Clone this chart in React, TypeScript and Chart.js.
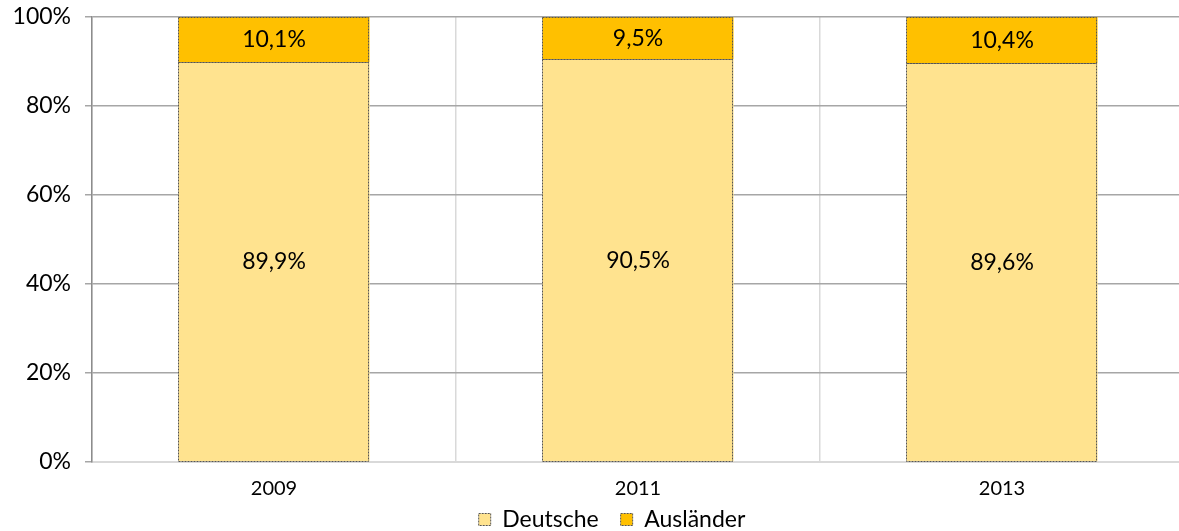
import React, { useEffect, useRef } from "react";
import { Chart, registerables } from "chart.js";

Chart.register(...registerables);

const categories = ["2009", "2011", "2013"];
const deutsche = [89.9, 90.5, 89.6];
const auslaender = [10.1, 9.5, 10.4];
const seriesNames = ["Deutsche", "Ausländer"];
const yTicks = [0, 20, 40, 60, 80, 100];

const FONT = "Lato, 'Open Sans', sans-serif";

const fmt = (v: number) => v.toFixed(1).replace(".", ",") + "%";

const LEGEND_H = 35;
const LEGEND_SHIFT_X = 20;
const LEGEND_SHIFT_Y = -10;

const barDecor = {
  id: "barDecor",
  afterInit(chart: any) {
    const lg = chart.legend;
    if (lg && !lg.__patched) {
      const origFit = lg.fit.bind(lg);
      lg.fit = function () {
        origFit();
        this.height = LEGEND_H;
      };
      const origDraw = lg._draw.bind(lg);
      lg._draw = function () {
        const ctx = chart.ctx;
        ctx.save();
        ctx.translate(LEGEND_SHIFT_X, LEGEND_SHIFT_Y);
        origDraw();
        ctx.restore();
      };
      lg.__patched = true;
    }
  },
  afterDatasetsDraw(chart: any) {
    const ctx = chart.ctx;
    chart.data.datasets.forEach((ds: any, di: number) => {
      const meta = chart.getDatasetMeta(di);
      meta.data.forEach((el: any, i: number) => {
        const { x, y, base, width } = el.getProps(["x", "y", "base", "width"], true);
        const left = x - width / 2;
        const top = Math.min(y, base);
        const h = Math.abs(base - y);
        ctx.save();
        ctx.strokeStyle = "#555555";
        ctx.lineWidth = 1;
        ctx.setLineDash([2, 1]);
        ctx.strokeRect(Math.round(left) + 0.5, Math.round(top) + 0.5, Math.round(width) - 1, Math.round(h));
        ctx.restore();
        ctx.save();
        ctx.fillStyle = "#000000";
        ctx.font = `23px ${FONT}`;
        ctx.textAlign = "center";
        ctx.textBaseline = "middle";
        ctx.fillText(fmt(ds.data[i]), x, top + h / 2);
        ctx.restore();
      });
    });
  },
};

export default function App() {
  const ref = useRef<HTMLCanvasElement>(null);
  useEffect(() => {
    if (!ref.current) return;
    const chart = new Chart(ref.current, {
      type: "bar",
      data: {
        labels: categories,
        datasets: [
          {
            label: seriesNames[0],
            data: deutsche,
            backgroundColor: "#FFE38F",
            borderWidth: 0,
          },
          {
            label: seriesNames[1],
            data: auslaender,
            backgroundColor: "#FFC000",
            borderWidth: 0,
          },
        ],
      },
      options: {
        responsive: false,
        animation: false,
        layout: { padding: { top: 17, left: 0, right: 0, bottom: 0 } },
        datasets: { bar: { categoryPercentage: 1, barPercentage: 0.525 } } as any,
        scales: {
          x: {
            stacked: true,
            offset: true,
            grid: {
              color: "#d9d9d9",
              lineWidth: 1.5,
              drawTicks: false,
              offset: true,
            },
            border: { color: "#d9d9d9", width: 2 },
            ticks: { color: "#000", font: { family: FONT, size: 20 }, padding: 15 },
            afterFit: (s: any) => {
              s.height = 34;
            },
          },
          y: {
            stacked: true,
            min: 0,
            max: 100,
            afterBuildTicks: (s: any) => {
              s.ticks = yTicks.map((v) => ({ value: v }));
            },
            grid: {
              color: (c: any) => (c.tick && c.tick.value === 0 ? "rgba(0,0,0,0)" : "#a6a6a6"),
              tickColor: "#a6a6a6",
              lineWidth: 1.5,
              tickLength: 7,
            },
            border: { color: "#8c8c8c", width: 1.5 },
            ticks: {
              color: "#000",
              font: { family: FONT, size: 23 },
              padding: 14,
              callback: (v: any) => v + "%",
            },
            afterFit: (s: any) => {
              s.width = 92;
              s.paddingTop = 0;
              s.paddingBottom = 0;
            },
          },
        },
        plugins: {
          legend: {
            position: "bottom",
            labels: {
              color: "#000",
              font: { family: FONT, size: 23 },
              boxWidth: 12,
              boxHeight: 12,
              padding: 22,
              generateLabels: (chart: any) =>
                chart.data.datasets.map((ds: any, i: number) => ({
                  text: ds.label,
                  fillStyle: ds.backgroundColor,
                  strokeStyle: "#555555",
                  lineWidth: 1,
                  lineDash: [2, 1],
                  hidden: false,
                  datasetIndex: i,
                  fontColor: "#000",
                })),
            },
          },
          tooltip: { enabled: false },
        },
      },
      plugins: [barDecor],
    });
    return () => chart.destroy();
  }, []);
  return (
    <div
      style={{
        position: "fixed",
        left: 0,
        top: 0,
        width: 1179,
        height: 531,
        overflow: "hidden",
        background: "#fff",
      }}
    >
      <canvas ref={ref} width={1184} height={531} style={{ width: 1184, height: 531, display: "block" }} />
    </div>
  );
}
